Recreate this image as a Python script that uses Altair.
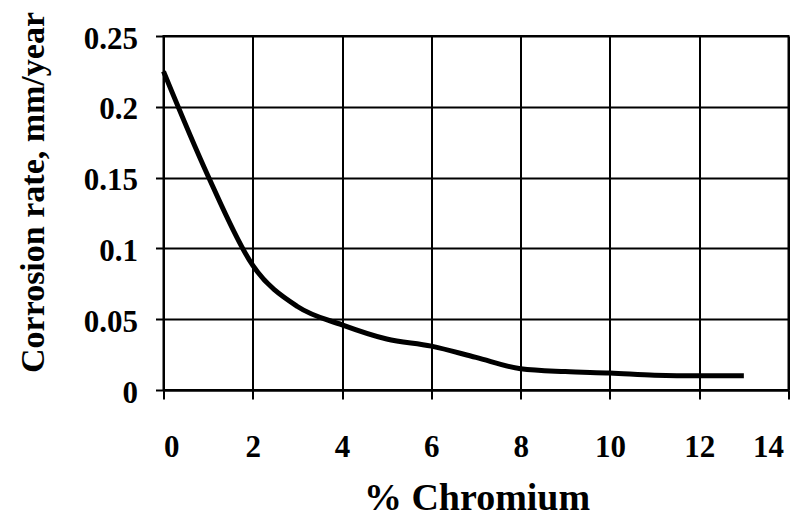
import altair as alt
import pandas as pd

chromium = [0, 1, 2, 3, 4, 5, 6, 7, 8, 9, 10, 11, 12, 13]
rate = [0.225, 0.151, 0.088, 0.059, 0.046, 0.036, 0.031, 0.023, 0.015, 0.013, 0.012, 0.0105, 0.010, 0.010]
x_ticks = [0, 2, 4, 6, 8, 10, 12, 14]
y_ticks = [0, 0.05, 0.1, 0.15, 0.2, 0.25]

df = pd.DataFrame({"x": chromium, "y": rate})

FONT = "Liberation Serif"

chart = alt.Chart(df).mark_line(
    color="black", strokeWidth=5, interpolate="monotone"
).encode(
    x=alt.X("x:Q", scale=alt.Scale(domain=[0, 14], nice=False),
            axis=alt.Axis(values=x_ticks, title="% Chromium", format="d",
                          labelPadding=57, labelBaseline="alphabetic",
                          labelOffset={"condition": {"test": "datum.value == 14", "value": -5}, "value": 0},
                          titleX=313, titleY=119, titleBaseline="alphabetic",
                          titleFontSize=38, tickSize=9)),
    y=alt.Y("y:Q", scale=alt.Scale(domain=[0, 0.25], nice=False),
            axis=alt.Axis(values=y_ticks, title="Corrosion rate, mm/year",
                          format="~g", labelPadding=18, labelOffset=3,
                          titleX=-120, titleY=156, titleAngle=-90,
                          titleBaseline="alphabetic", titleAlign="center",
                          titleFontSize=34, tickSize=8)),
).properties(
    width=625, height=354,
    padding={"left": 155.5, "top": 28, "right": 11.5, "bottom": 128},
    autosize=alt.AutoSizeParams(type="none"),
).configure_axis(
    grid=True, gridColor="black", gridWidth=2, gridOpacity=1,
    domainColor="black", domainWidth=2,
    tickColor="black", tickWidth=2,
    labelFont=FONT, labelFontSize=31, labelFontWeight="bold", labelColor="black",
    titleFont=FONT, titleFontWeight="bold", titleColor="black",
).configure_view(stroke="black", strokeWidth=2)

chart.save("out.html", embed_options={"renderer": "svg", "actions": False})
